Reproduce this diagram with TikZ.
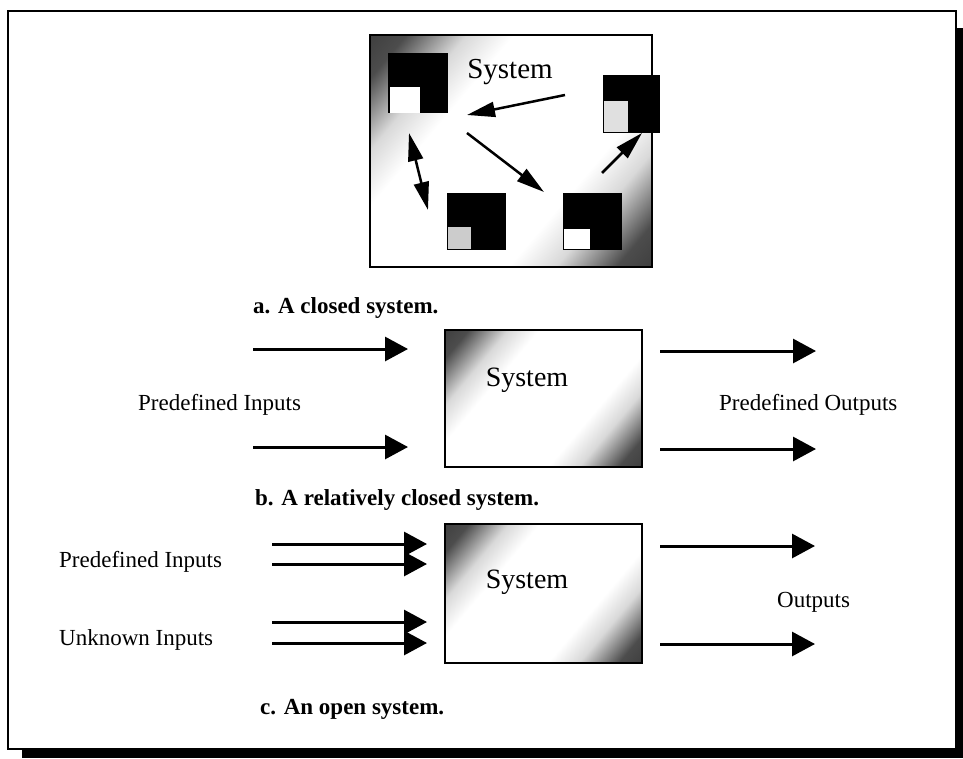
\documentclass[tikz,border=0pt]{standalone}
\usepackage{fontspec}
\setmainfont{Liberation Serif}
\usetikzlibrary{arrows.meta}
\pgfdeclarehorizontalshading{diagshade}{100bp}{color(0bp)=(black!90); color(20bp)=(black!70); color(29bp)=(black!15); color(36bp)=(white); color(64bp)=(white); color(71bp)=(black!15); color(80bp)=(black!70); color(100bp)=(black!90)}
\tikzset{
  lbl/.style={anchor=base west, inner sep=0pt, font=\fontsize{23}{27}\selectfont},
  captxt/.style={anchor=base west, inner sep=0pt, font=\fontsize{23}{27}\selectfont\bfseries},
  systxt/.style={inner sep=0pt, font=\fontsize{28}{32}\selectfont},
  sysbox/.style={draw, line width=2.5pt, shading=diagshade, shading angle=-40, inner sep=0pt},
  sq/.style={fill=black, minimum width=60pt, minimum height=60pt, inner sep=0pt},
  bigarrow/.style={line width=3pt, -{Triangle[length=23pt,width=24pt]}},
  smallarrow/.style={line width=2.5pt, -{Triangle[length=28pt,width=15pt]}},
  dblarrow/.style={line width=2.5pt, {Triangle[length=28pt,width=15pt]}-{Triangle[length=28pt,width=15pt]}}
}
\begin{document}
\begin{tikzpicture}[x=1pt,y=-1pt]
\useasboundingbox (0,0) rectangle (963,758);
% frame with shadow
\fill[black] (22,28) rectangle (963,758);
\draw[fill=white, line width=2.5pt] (8,11) rectangle (956,749);

% ---- a. closed system ----
\node[sysbox, minimum width=282pt, minimum height=232pt] (topbox) at (511,151) {};
\node[sq] (s1) at (418,83) {};
\fill[white] (390,87) rectangle (420,113);
\node[sq, minimum width=57pt, minimum height=58pt] (s2) at (631.5,104) {};
\fill[black!12] (604,101) rectangle (628,132);
\node[sq, minimum width=59pt, minimum height=57pt] (s3) at (476.5,221.5) {};
\fill[black!20] (448,227) rectangle (471,249);
\node[sq, minimum width=59pt, minimum height=57pt] (s4) at (592.5,221.5) {};
\fill[white] (564,229) rectangle (590,249);
\node[systxt, font=\fontsize{29}{33}\selectfont] (systop) at (510,72) {System};

\coordinate (a1s) at (565,95);  \coordinate (a1e) at (467,115);
\coordinate (a2s) at (467,133); \coordinate (a2e) at (544,192);
\coordinate (a3s) at (602,173); \coordinate (a3e) at (642,133);
\coordinate (a4s) at (409,133); \coordinate (a4e) at (428,210);
\draw[smallarrow] (a1s) -- (a1e);
\draw[smallarrow] (a2s) -- (a2e);
\draw[smallarrow] (a3s) -- (a3e);
\draw[dblarrow] (a4s) -- (a4e);

\node[captxt] (capa) at (253,313) {a. A closed system.};

% ---- b. relatively closed system ----
\node[sysbox, minimum width=197pt, minimum height=137pt] (midbox) at (543.5,398.5) {};
\node[systxt] (sysmid) at (527,380) {System};
\coordinate (bi1s) at (253,349); \coordinate (bi1e) at (408,349);
\coordinate (bi2s) at (253,447); \coordinate (bi2e) at (408,447);
\coordinate (bo1s) at (660,351); \coordinate (bo1e) at (816,351);
\coordinate (bo2s) at (660,449); \coordinate (bo2e) at (816,449);
\draw[bigarrow] (bi1s) -- (bi1e);
\draw[bigarrow] (bi2s) -- (bi2e);
\draw[bigarrow] (bo1s) -- (bo1e);
\draw[bigarrow] (bo2s) -- (bo2e);
\node[lbl] (pinb) at (138,410) {Predefined Inputs};
\node[lbl] (poutb) at (719,410) {Predefined Outputs};

\node[captxt] (capb) at (255,505) {b. A relatively closed system.};

% ---- c. open system ----
\node[sysbox, minimum width=197pt, minimum height=139pt] (botbox) at (543.5,593.5) {};
\node[systxt] (sysbot) at (527,582) {System};
\coordinate (ci1s) at (272,544); \coordinate (ci1e) at (427,544);
\coordinate (ci2s) at (272,564); \coordinate (ci2e) at (427,564);
\coordinate (ci3s) at (272,622); \coordinate (ci3e) at (427,622);
\coordinate (ci4s) at (272,643); \coordinate (ci4e) at (427,643);
\coordinate (co1s) at (660,546); \coordinate (co1e) at (815,546);
\coordinate (co2s) at (660,644); \coordinate (co2e) at (815,644);
\draw[bigarrow] (ci1s) -- (ci1e);
\draw[bigarrow] (ci2s) -- (ci2e);
\draw[bigarrow] (ci3s) -- (ci3e);
\draw[bigarrow] (ci4s) -- (ci4e);
\draw[bigarrow] (co1s) -- (co1e);
\draw[bigarrow] (co2s) -- (co2e);
\node[lbl] (pinc) at (59,567) {Predefined Inputs};
\node[lbl] (unkc) at (59,645) {Unknown Inputs};
\node[lbl] (outc) at (777,607) {Outputs};

\node[captxt] (capc) at (260,714) {c. An open system.};
\end{tikzpicture}
\end{document}
